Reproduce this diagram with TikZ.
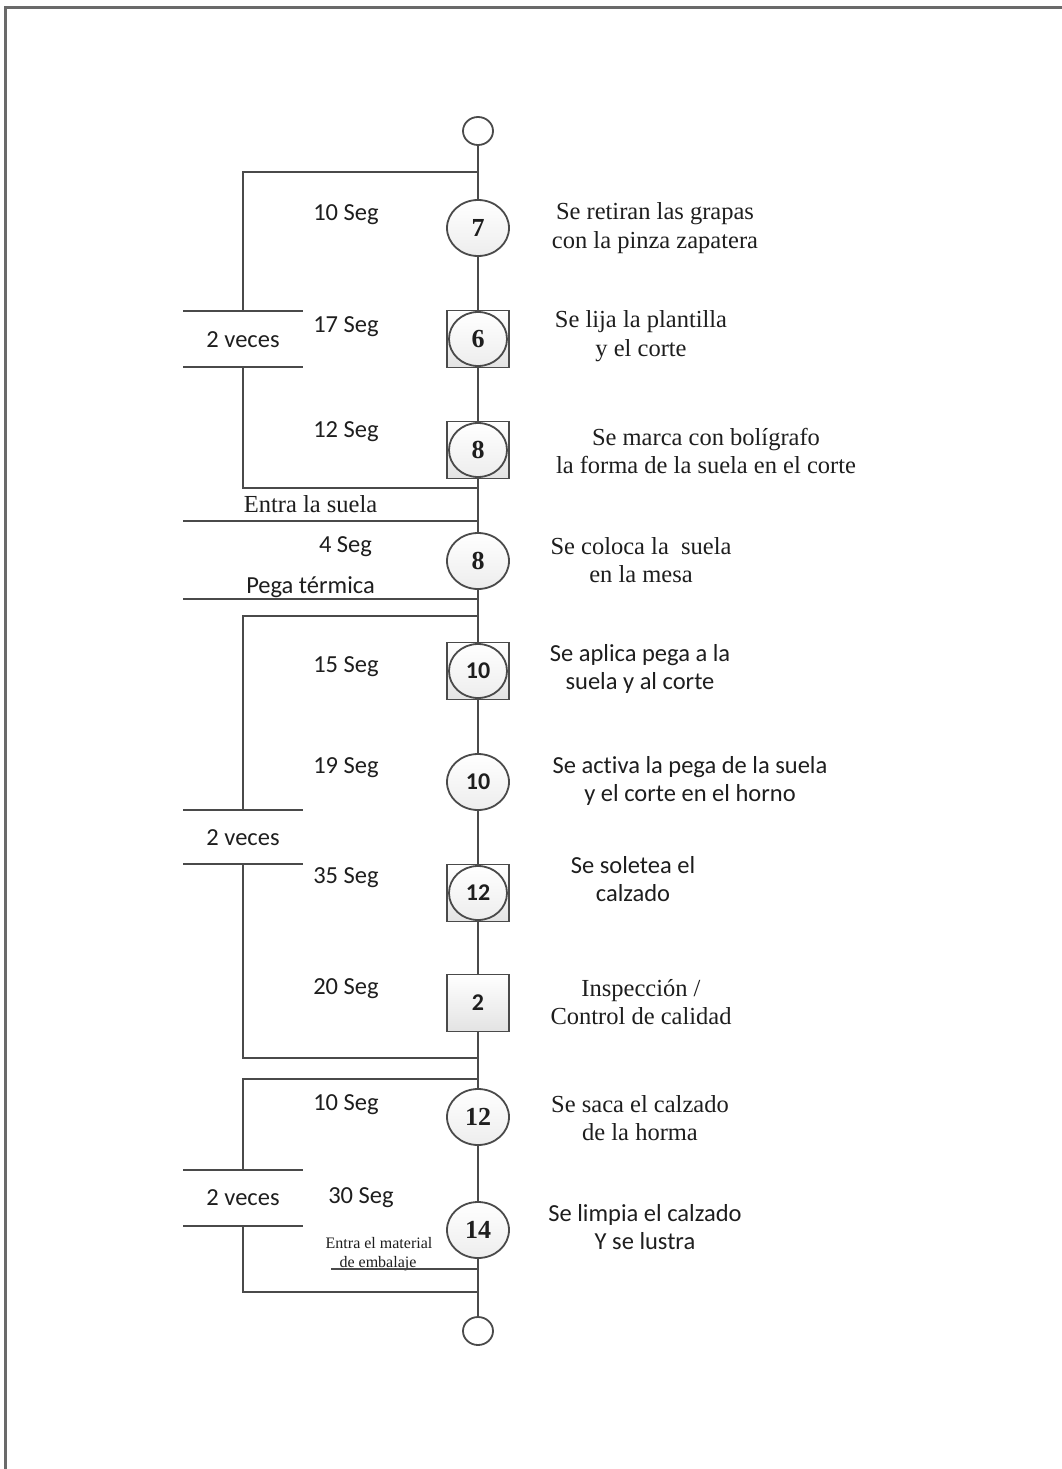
\documentclass[tikz,border=0pt]{standalone}
\usepackage{fontspec}
\setmainfont{Liberation Serif}
\newfontfamily\calib[Ligatures=NoCommon]{Carlito}
\usetikzlibrary{shapes.geometric}
\definecolor{linec}{HTML}{4A4A4A}
\definecolor{framec}{HTML}{6A6A6A}
\definecolor{textc}{HTML}{1E1E1E}
\tikzset{
  flow/.style={draw=linec, line width=2.2pt},
  opcircle/.style={ellipse, draw=linec, line width=1.8pt, minimum width=62pt,
    minimum height=56pt, inner sep=0pt, top color=white, bottom color=gray!14},
  opinner/.style={ellipse, draw=linec, line width=1.8pt, minimum width=58pt,
    minimum height=54pt, inner sep=0pt, top color=white, bottom color=gray!14},
  opsquare/.style={rectangle, draw=linec, line width=1.8pt, minimum width=62pt,
    minimum height=57pt, inner sep=0pt, top color=white, bottom color=gray!22},
  termc/.style={ellipse, draw=linec, line width=1.8pt, minimum width=30pt,
    minimum height=28pt, inner sep=0pt, fill=white},
  sertxt/.style={text=textc, font=\fontsize{24.5}{28.5}\selectfont, align=center, inner sep=0pt},
  santxt/.style={text=textc, font=\calib\fontsize{24.5}{28.5}\selectfont, align=center, inner sep=0pt},
  smalltxt/.style={text=textc, font=\fontsize{16}{19}\selectfont, align=center, inner sep=0pt},
  numser/.style={text=textc, font=\bfseries\fontsize{26}{26}\selectfont},
  numsan/.style={text=textc, font=\calib\bfseries\fontsize{24}{24}\selectfont},
}
\begin{document}
\begin{tikzpicture}[x=1pt, y=-1pt]
  % page area and the surrounding frame
  \path[use as bounding box, clip] (0,0) rectangle (1062,1469);
  \fill[white] (0,0) rectangle (1062,1469);
  \draw[draw=framec, line width=2.6pt] (5.5,1500) -- (5.5,7.5) -- (1100,7.5);

  % process symbols along the main line
  \node[termc] (start) at (478,131) {};
  \node[opcircle, numser] (op7) at (478,228) {7};
  \node[opsquare] (sq6) at (478,339) {};
  \node[opinner, numser] (op6) at (478,339) {6};
  \node[opsquare] (sq8) at (478,450) {};
  \node[opinner, numser] (op8) at (478,450) {8};
  \node[opcircle, numser] (op8b) at (478,561) {8};
  \node[opsquare] (sq10) at (478,671) {};
  \node[opinner, numsan] (op10) at (478,671) {10};
  \node[opcircle, numsan] (op10b) at (478,782) {10};
  \node[opsquare] (sq12) at (478,893) {};
  \node[opinner, numsan] (op12) at (478,893) {12};
  \node[opsquare, numsan] (in2) at (478,1003) {2};
  \node[opcircle, numser] (op12b) at (478,1117) {12};
  \node[opcircle, numser] (op14) at (478,1230) {14};
  \node[termc] (stop) at (478,1331) {};

  % main flow line
  \draw[flow] (start) -- (op7);
  \draw[flow] (op7) -- (sq6);
  \draw[flow] (sq6) -- (sq8);
  \draw[flow] (sq8) -- (op8b);
  \draw[flow] (op8b) -- (sq10);
  \draw[flow] (sq10) -- (op10b);
  \draw[flow] (op10b) -- (sq12);
  \draw[flow] (sq12) -- (in2);
  \draw[flow] (in2) -- (op12b);
  \draw[flow] (op12b) -- (op14);
  \draw[flow] (op14) -- (stop);

  % repetition loops ("2 veces")
  \coordinate (r1a) at (478,172);  \coordinate (r1b) at (478,488);
  \coordinate (l1a) at (243,311);  \coordinate (l1b) at (243,367);
  \coordinate (r2a) at (478,616);  \coordinate (r2b) at (478,1058);
  \coordinate (l2a) at (243,810);  \coordinate (l2b) at (243,864);
  \coordinate (r3a) at (478,1079); \coordinate (r3b) at (478,1292);
  \coordinate (l3a) at (243,1170); \coordinate (l3b) at (243,1226);

  \draw[flow] (r1a) -| (l1a);
  \draw[flow] (l1b) |- (r1b);
  \draw[flow] (r2a) -| (l2a);
  \draw[flow] (l2b) |- (r2b);
  \draw[flow] (r3a) -| (l3a);
  \draw[flow] (l3b) |- (r3b);

  % bars of the loop labels
  \foreach \n/\y in {1a/311, 1b/367, 2a/810, 2b/864, 3a/1170, 3b/1226} {
    \coordinate (bl\n) at (183,\y);
    \coordinate (br\n) at (303,\y);
    \draw[flow] (bl\n) -- (br\n);
  }
  \node[santxt] (v1) at (243,340) {2 veces};
  \node[santxt] (v2) at (243,838) {2 veces};
  \node[santxt] (v3) at (243,1198) {2 veces};

  % material inputs
  \coordinate (e1a) at (183,521);  \coordinate (e1b) at (478,521);
  \coordinate (e2a) at (183,599);  \coordinate (e2b) at (478,599);
  \coordinate (e3a) at (331,1269); \coordinate (e3b) at (478,1269);
  \node[sertxt, anchor=base] (in1t) at (310.5,512) {Entra la suela};
  \node[santxt, anchor=base] (in2t) at (310.5,593) {Pega térmica};
  \node[smalltxt, anchor=base] (in3t) at (379,1248) {Entra el material};
  \node[smalltxt, anchor=base] (in3u) at (378,1267) {de embalaje};
  \draw[flow] (e1a) -- (e1b);
  \draw[flow] (e2a) -- (e2b);
  \draw[flow, line width=1.8pt] (e3a) -- (e3b);

  % times
  \node[santxt] (t1) at (346,215) {10 Seg};
  \node[santxt] (t2) at (346,327) {17 Seg};
  \node[santxt] (t3) at (346,432) {12 Seg};
  \node[santxt] (t4) at (345.5,547) {4 Seg};
  \node[santxt] (t5) at (346,667) {15 Seg};
  \node[santxt] (t6) at (346,768) {19 Seg};
  \node[santxt] (t7) at (346,878) {35 Seg};
  \node[santxt] (t8) at (346,989) {20 Seg};
  \node[santxt] (t9) at (346,1105) {10 Seg};
  \node[santxt] (t10) at (361,1198) {30 Seg};

  % descriptions of each activity
  \node[sertxt] (d7) at (655,228) {Se retiran las grapas\\con la pinza zapatera};
  \node[sertxt] (d6) at (641,336) {Se lija la plantilla\\y el corte};
  \node[sertxt] (d8) at (706,451) {Se marca con bolígrafo\\la forma de la suela en el corte};
  \node[sertxt] (d8b) at (641,560) {Se coloca la\ \ suela\\en la mesa};
  \node[santxt] (d10) at (640,669) {Se aplica pega a la\\suela y al corte};
  \node[santxt] (d10b) at (690,781) {Se activa la pega de la suela\\y el corte en el horno};
  \node[santxt] (d12) at (633,879) {Se soletea el\\calzado};
  \node[sertxt] (d2) at (641,1002) {Inspección /\\Control de calidad};
  \node[sertxt] (d12b) at (640,1118) {Se saca el calzado\\de la horma};
  \node[santxt] (d14) at (645,1227) {Se limpia el calzado\\Y se lustra};
\end{tikzpicture}
\end{document}
